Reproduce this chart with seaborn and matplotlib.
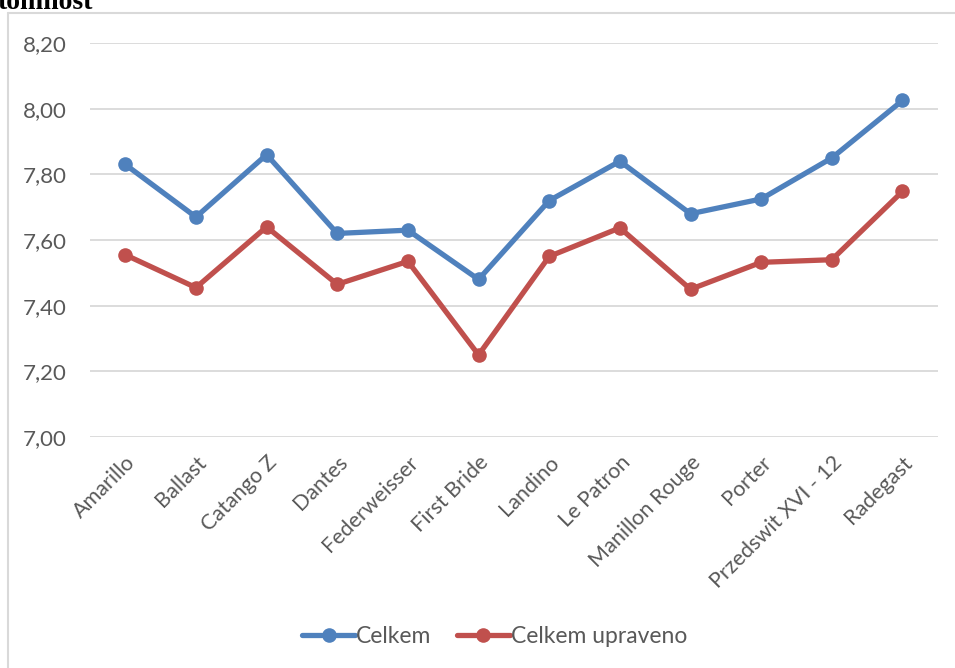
import matplotlib
matplotlib.use("Agg")
import matplotlib.pyplot as plt
from matplotlib.lines import Line2D
import seaborn as sns
import pandas as pd

# Beer samples and their scores
categories = ["Amarillo", "Ballast", "Catango Z", "Dantes", "Federweisser", "First Bride",
              "Landino", "Le Patron", "Manillon Rouge", "Porter", "Przedswit XVI - 12", "Radegast"]
celkem = [7.83, 7.67, 7.86, 7.62, 7.63, 7.48, 7.72, 7.84, 7.68, 7.725, 7.85, 8.025]
celkem_upraveno = [7.555, 7.455, 7.64, 7.465, 7.535, 7.25, 7.55, 7.637, 7.45, 7.532, 7.54, 7.748]
series_names = ["Celkem", "Celkem upraveno"]
y_ticks = [7.00, 7.20, 7.40, 7.60, 7.80, 8.00, 8.20]

df = pd.DataFrame({
    "vzorek": categories * 2,
    "hodnota": celkem + celkem_upraveno,
    "rada": [series_names[0]] * len(categories) + [series_names[1]] * len(categories),
})

sns.set_theme(style="white")
plt.rcParams["font.family"] = ["Lato", "DejaVu Sans"]

colors = {"Celkem": "#4F81BD", "Celkem upraveno": "#C0504D"}
text_color = "#595959"
grid_color = "#D9D9D9"

fig = plt.figure(figsize=(9.55, 6.68), dpi=100)
ax = fig.add_axes([0.0942, 0.3458, 0.982 - 0.0942, 0.9356 - 0.3458])

sns.lineplot(data=df, x="vzorek", y="hodnota", hue="rada", palette=colors, sort=False,
             marker="o", markersize=10.5, markeredgewidth=0, linewidth=3.8, ax=ax,
             legend=False)

ax.set_xlim(-0.5, len(categories) - 0.5)
ax.set_ylim(y_ticks[0], y_ticks[-1])
ax.set_yticks(y_ticks)
ax.set_yticklabels([f"{v:.2f}".replace(".", ",") for v in y_ticks],
                   fontsize=16, color=text_color)
ax.set_xticks(range(len(categories)))
ax.set_xticklabels(categories, rotation=45, ha="right", rotation_mode="anchor",
                   fontsize=15.5, color=text_color)
ax.tick_params(axis="y", length=0, pad=16.5)
ax.tick_params(axis="x", length=0, pad=11)
ax.set_xlabel("")
ax.set_ylabel("")
ax.yaxis.grid(True, color=grid_color, linewidth=1.3)
ax.set_axisbelow(True)
for s in ax.spines.values():
    s.set_visible(False)

# Legend below the plot
handles = [Line2D([], [], color=colors[n], marker="o", markersize=10.5, markeredgewidth=0,
                  linewidth=3.8) for n in series_names]
fig.legend(handles, series_names, loc="center", bbox_to_anchor=(0.518, 0.047), ncol=2,
           frameon=False, fontsize=16.5, labelcolor=text_color, handlelength=2.3,
           handletextpad=0.05, columnspacing=1.1)

# Chart frame edges
fig.add_artist(Line2D([8 / 955, 8 / 955], [0, 1 - 13 / 668], transform=fig.transFigure,
                      color=grid_color, linewidth=1.5))
fig.add_artist(Line2D([8 / 955, 1], [1 - 13 / 668, 1 - 13 / 668], transform=fig.transFigure,
                      color=grid_color, linewidth=1.5))

# Heading line above the chart
fig.text(-2 / 955, 1 - 9 / 668, "tomnost", fontsize=20, fontweight="bold",
         family=["Liberation Serif", "DejaVu Serif"], color="black", ha="left", va="baseline")

fig.savefig("out.png", dpi=100)
